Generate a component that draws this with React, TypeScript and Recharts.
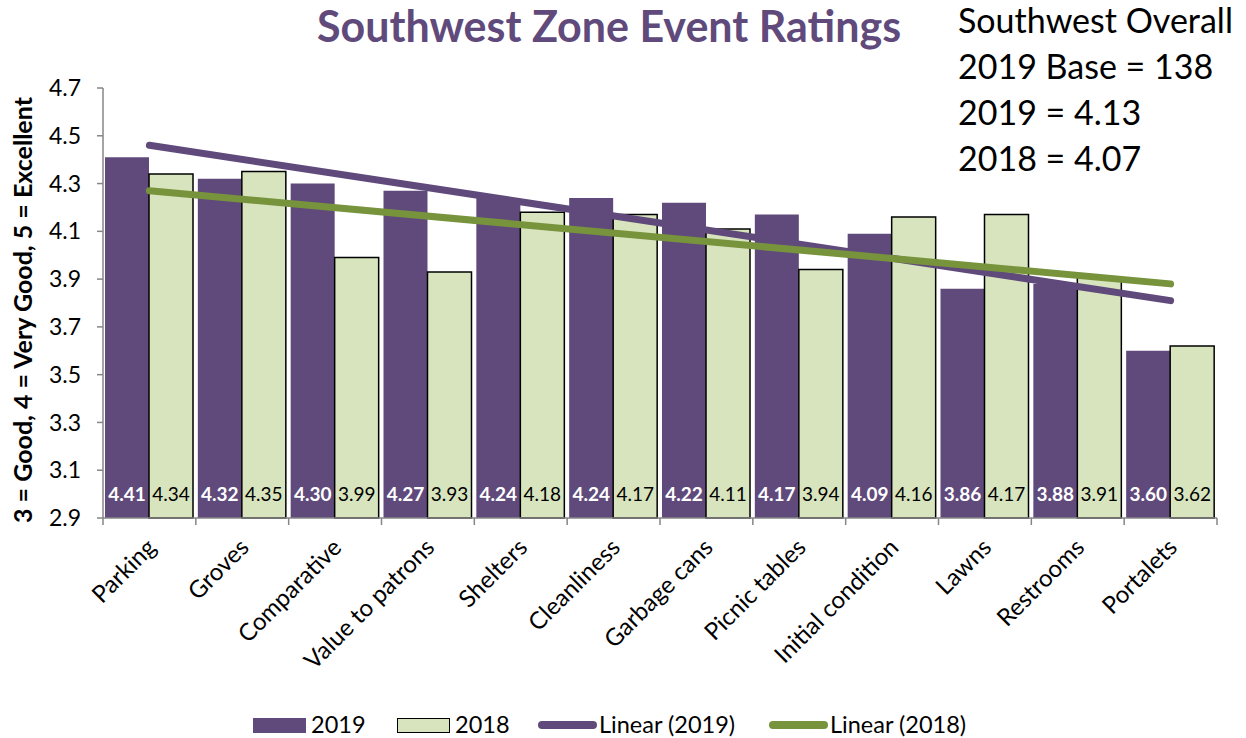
import { ComposedChart, Bar, Line, XAxis, YAxis, LabelList } from "recharts";

const CATEGORIES = [
  "Parking", "Groves", "Comparative", "Value to patrons", "Shelters", "Cleanliness",
  "Garbage cans", "Picnic tables", "Initial condition", "Lawns", "Restrooms", "Portalets",
];
const RATINGS_2019 = [4.41, 4.32, 4.3, 4.27, 4.24, 4.24, 4.22, 4.17, 4.09, 3.86, 3.88, 3.6];
const RATINGS_2018 = [4.34, 4.35, 3.99, 3.93, 4.18, 4.17, 4.11, 3.94, 4.16, 4.17, 3.91, 3.62];
// trendline ends; the line joins them
const TREND_2019 = [4.46, null, null, null, null, null, null, null, null, null, null, 3.81];
const TREND_2018 = [4.27, null, null, null, null, null, null, null, null, null, null, 3.88];
const Y_TICKS = [2.9, 3.1, 3.3, 3.5, 3.7, 3.9, 4.1, 4.3, 4.5, 4.7];
const OVERALL_LINES = ["Southwest Overall", "2019 Base = 138", "2019 = 4.13", "2018 = 4.07"];

const PURPLE = "#604A7B";
const PALE_GREEN = "#D7E4BD";
const OLIVE = "#77933C";
const AXIS = "#868686";
const FONT = "Lato, 'Open Sans', sans-serif";

const data = CATEGORIES.map((name, i) => ({
  name,
  y2019: RATINGS_2019[i],
  y2018: RATINGS_2018[i],
  t2019: TREND_2019[i],
  t2018: TREND_2018[i],
}));

function CategoryTick(props: any) {
  const { x, y, payload, index } = props;
  const half = payload?.offset ?? 0;
  const last = index === CATEGORIES.length - 1;
  const tx = x + 8;
  const ty = y + 31;
  return (
    <g>
      <line x1={x - half} x2={x - half} y1={y} y2={y + 7} stroke={AXIS} strokeWidth={1.5} />
      {last && <line x1={x + half} x2={x + half} y1={y} y2={y + 7} stroke={AXIS} strokeWidth={1.5} />}
      <text
        x={tx}
        y={ty}
        transform={`rotate(-45, ${tx}, ${ty})`}
        textAnchor="end"
        fontSize={24}
        fontFamily={FONT}
        fill="#000"
      >
        {payload.value}
      </text>
    </g>
  );
}

function barLabel(color: string, weight: number) {
  return (props: any) => {
    const { x, y, width, height, value } = props;
    return (
      <text
        x={x + width / 2}
        y={y + height - 17}
        textAnchor="middle"
        fontSize={19}
        fontWeight={weight}
        fontFamily={FONT}
        fill={color}
      >
        {Number(value).toFixed(2)}
      </text>
    );
  };
}

const LEGEND = [
  { kind: "box", color: PURPLE, label: "2019", swatchX: 253, textX: 311 },
  { kind: "box", color: PALE_GREEN, label: "2018", swatchX: 397, textX: 455 },
  { kind: "line", color: PURPLE, label: "Linear (2019)", swatchX: 538, textX: 599 },
  { kind: "line", color: OLIVE, label: "Linear (2018)", swatchX: 769, textX: 830 },
];

export default function App() {
  return (
    <div style={{ position: "absolute", left: 0, top: 0, width: 1246, height: 738, background: "#fff", fontFamily: FONT }}>
      <div
        style={{
          position: "absolute",
          left: 0,
          width: 1218,
          top: 0,
          textAlign: "center",
          fontSize: 43,
          fontWeight: 700,
          color: PURPLE,
          whiteSpace: "nowrap",
        }}
      >
        Southwest Zone Event Ratings
      </div>
      <div style={{ position: "absolute", left: 958, top: -3, fontSize: 34, lineHeight: "46px", color: "#000", whiteSpace: "nowrap" }}>
        {OVERALL_LINES.map((l) => (
          <div key={l}>{l}</div>
        ))}
      </div>
      <div
        style={{
          position: "absolute",
          left: 22,
          top: 310,
          transform: "translate(-50%, -50%) rotate(-90deg)",
          whiteSpace: "nowrap",
          fontSize: 25,
          fontWeight: 700,
          color: "#000",
        }}
      >
        3 = Good, 4 = Very Good, 5 = Excellent
      </div>
      <ComposedChart
        width={1246}
        height={738}
        data={data}
        margin={{ top: 88, right: 29, left: 43, bottom: 50 }}
        barCategoryGap={2}
        barGap={0}
      >
        <XAxis
          dataKey="name"
          height={170}
          axisLine={{ stroke: AXIS, strokeWidth: 1.5 }}
          tickLine={false}
          tickSize={0}
          tickMargin={0}
          interval={0}
          tick={<CategoryTick />}
        />
        <YAxis
          domain={[2.9, 4.7]}
          ticks={Y_TICKS}
          width={60}
          axisLine={{ stroke: AXIS, strokeWidth: 1.5 }}
          tickLine={{ stroke: AXIS, strokeWidth: 1.5 }}
          tickSize={6}
          tickMargin={16}
          tickFormatter={(v: number) => v.toFixed(1)}
          tick={{ fontSize: 23, fill: "#000", fontFamily: FONT }}
        />
        <Bar dataKey="y2019" fill={PURPLE} isAnimationActive={false}>
          <LabelList dataKey="y2019" content={barLabel("#fff", 700)} />
        </Bar>
        <Bar dataKey="y2018" fill={PALE_GREEN} stroke="#000" strokeWidth={1.5} isAnimationActive={false}>
          <LabelList dataKey="y2018" content={barLabel("#000", 400)} />
        </Bar>
        <Line
          dataKey="t2019"
          stroke={PURPLE}
          strokeWidth={7}
          strokeLinecap="round"
          connectNulls
          dot={false}
          activeDot={false}
          isAnimationActive={false}
        />
        <Line
          dataKey="t2018"
          stroke={OLIVE}
          strokeWidth={7}
          strokeLinecap="round"
          connectNulls
          dot={false}
          activeDot={false}
          isAnimationActive={false}
        />
      </ComposedChart>
      {LEGEND.map((item) => (
        <div key={item.label}>
          {item.kind === "box" ? (
            <div
              style={{
                position: "absolute",
                left: item.swatchX,
                top: 718,
                width: 53,
                height: 15,
                background: item.color,
                border: item.color === PALE_GREEN ? "1.5px solid #000" : "none",
                boxSizing: "border-box",
              }}
            />
          ) : (
            <div
              style={{
                position: "absolute",
                left: item.swatchX,
                top: 721,
                width: 59,
                height: 8,
                background: item.color,
                borderRadius: 4,
              }}
            />
          )}
          <div
            style={{
              position: "absolute",
              left: item.textX,
              top: 710,
              fontSize: 23.5,
              lineHeight: "28px",
              color: "#000",
              whiteSpace: "nowrap",
            }}
          >
            {item.label}
          </div>
        </div>
      ))}
    </div>
  );
}
